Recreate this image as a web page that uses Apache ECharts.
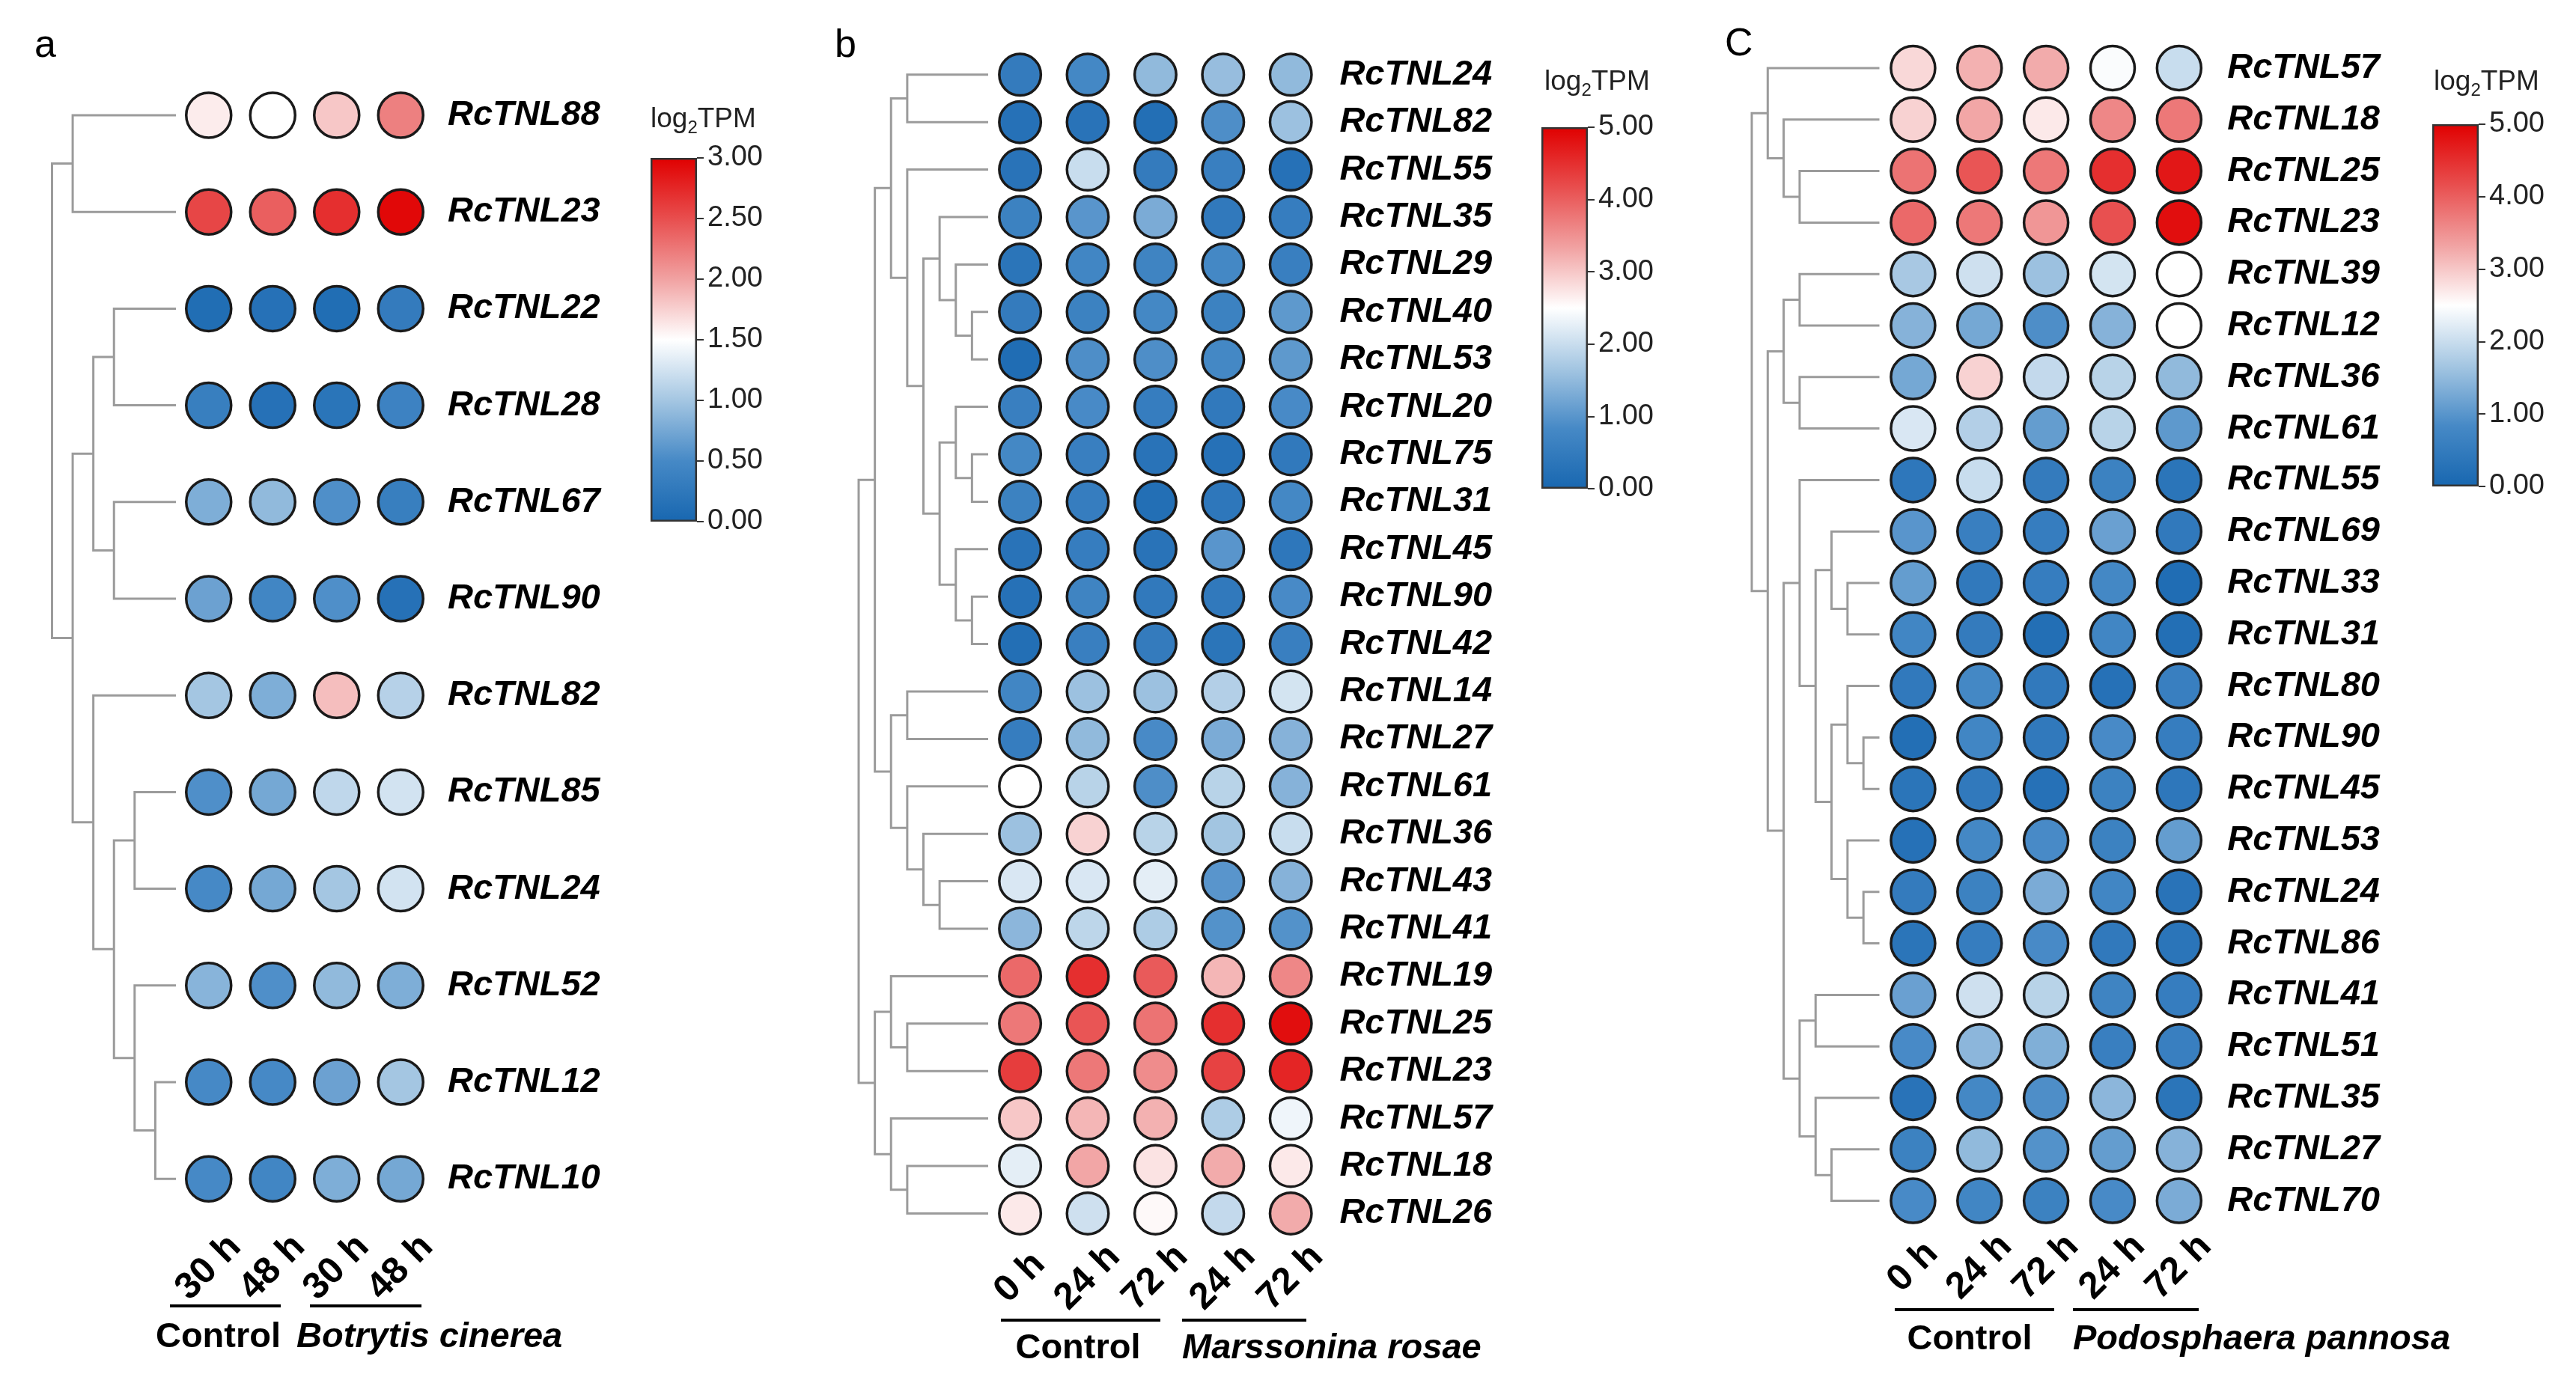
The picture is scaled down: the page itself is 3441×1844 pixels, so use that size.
<!DOCTYPE html>
<html><head><meta charset="utf-8">
<script src="https://cdn.jsdelivr.net/npm/echarts@6/dist/echarts.min.js"></script>
<style>html,body{margin:0;padding:0;background:#fff;} #c{width:3441px;height:1844px;}</style>
</head><body><div id="c"></div>
<script>
// ---------------- DATA ----------------
const timesA = ['30 h','48 h','30 h','48 h'];
const timesB = ['0 h','24 h','72 h','24 h','72 h'];
const timesC = ['0 h','24 h','72 h','24 h','72 h'];

const groupsA = ['Control','Botrytis cinerea'];
const groupsB = ['Control','Marssonina rosae'];
const groupsC = ['Control','Podosphaera pannosa'];

const ticksA = {min:0, max:3, step:0.5};
const ticksB = {min:0, max:5, step:1};
const ticksC = {min:0, max:5, step:1};

const genesA = ['RcTNL88','RcTNL23','RcTNL22','RcTNL28','RcTNL67','RcTNL90','RcTNL82','RcTNL85','RcTNL24','RcTNL52','RcTNL12','RcTNL10'];
const valuesA = [
  [1.6,1.5,1.8,2.2],
  [2.55,2.4,2.7,2.95],
  [0.1,0.15,0.1,0.3],
  [0.35,0.15,0.2,0.4],
  [0.8,0.9,0.55,0.35],
  [0.7,0.45,0.55,0.15],
  [1.0,0.8,1.85,1.1],
  [0.55,0.75,1.15,1.25],
  [0.5,0.75,1.0,1.25],
  [0.85,0.55,0.9,0.8],
  [0.5,0.5,0.7,1.0],
  [0.5,0.45,0.8,0.75]
];
const treeA = [6,
  [5,'RcTNL88','RcTNL23'],
  [5,
    [4,[3,'RcTNL22','RcTNL28'],[3,'RcTNL67','RcTNL90']],
    [4,'RcTNL82',[3,[2,'RcTNL85','RcTNL24'],[2,'RcTNL52',[1,'RcTNL12','RcTNL10']]]]
  ]
];

const genesB = ['RcTNL24','RcTNL82','RcTNL55','RcTNL35','RcTNL29','RcTNL40','RcTNL53','RcTNL20','RcTNL75','RcTNL31','RcTNL45','RcTNL90','RcTNL42','RcTNL14','RcTNL27','RcTNL61','RcTNL36','RcTNL43','RcTNL41','RcTNL19','RcTNL25','RcTNL23','RcTNL57','RcTNL18','RcTNL26'];
const valuesB = [
  [0.5,0.8,1.5,1.55,1.5],
  [0.25,0.3,0.2,0.9,1.6],
  [0.3,2.0,0.5,0.6,0.25],
  [0.65,1.0,1.3,0.45,0.55],
  [0.35,0.75,0.7,0.8,0.6],
  [0.5,0.65,0.8,0.65,1.05],
  [0.15,0.9,0.9,0.8,1.05],
  [0.6,0.85,0.55,0.45,0.85],
  [0.8,0.6,0.3,0.25,0.45],
  [0.65,0.55,0.2,0.4,0.8],
  [0.3,0.55,0.3,1.0,0.4],
  [0.25,0.7,0.45,0.45,0.85],
  [0.2,0.6,0.5,0.35,0.6],
  [0.75,1.6,1.6,1.8,2.1],
  [0.55,1.5,0.85,1.3,1.4],
  [2.5,1.85,0.9,1.85,1.4],
  [1.6,2.9,1.85,1.65,2.0],
  [2.15,2.15,2.25,1.0,1.4],
  [1.45,1.9,1.75,0.95,0.95],
  [3.9,4.5,4.05,3.15,3.6],
  [3.75,4.1,3.8,4.5,4.85],
  [4.35,3.75,3.55,4.3,4.6],
  [3.0,3.15,3.2,1.75,2.35],
  [2.25,3.3,2.75,3.25,2.7],
  [2.7,2.05,2.55,1.95,3.25]
];
const treeB = [8,
  [7,
    [6,
      [5,'RcTNL24','RcTNL82'],
      [5,'RcTNL55',
        [4,
          [3,'RcTNL35',[2,'RcTNL29',[1,'RcTNL40','RcTNL53']]],
          [3,[2,'RcTNL20',[1,'RcTNL75','RcTNL31']],[2,'RcTNL45',[1,'RcTNL90','RcTNL42']]]
        ]
      ]
    ],
    [6,
      [5,'RcTNL14','RcTNL27'],
      [5,'RcTNL61',[4,'RcTNL36',[3,'RcTNL43','RcTNL41']]]
    ]
  ],
  [7,
    [6,'RcTNL19',[5,'RcTNL25','RcTNL23']],
    [6,'RcTNL57',[5,'RcTNL18','RcTNL26']]
  ]
];

const genesC = ['RcTNL57','RcTNL18','RcTNL25','RcTNL23','RcTNL39','RcTNL12','RcTNL36','RcTNL61','RcTNL55','RcTNL69','RcTNL33','RcTNL31','RcTNL80','RcTNL90','RcTNL45','RcTNL53','RcTNL24','RcTNL86','RcTNL41','RcTNL51','RcTNL35','RcTNL27','RcTNL70'];
const valuesC = [
  [2.85,3.2,3.25,2.45,2.0],
  [2.9,3.3,2.7,3.6,3.75],
  [3.8,4.1,3.75,4.5,4.75],
  [3.9,3.75,3.45,4.15,4.85],
  [1.7,2.05,1.6,2.1,2.5],
  [1.4,1.25,0.9,1.4,2.5],
  [1.25,2.9,1.95,1.85,1.5],
  [2.15,1.8,1.1,1.85,1.05],
  [0.4,2.0,0.5,0.65,0.35],
  [1.0,0.6,0.55,1.15,0.45],
  [1.1,0.45,0.55,0.8,0.15],
  [0.75,0.5,0.2,0.75,0.2],
  [0.45,0.8,0.45,0.25,0.6],
  [0.2,0.75,0.45,0.85,0.55],
  [0.35,0.45,0.25,0.65,0.4],
  [0.25,0.8,0.85,0.65,1.1],
  [0.5,0.65,1.3,0.75,0.3],
  [0.35,0.55,0.85,0.45,0.35],
  [1.15,2.05,1.85,0.7,0.55],
  [0.85,1.45,1.35,0.6,0.6],
  [0.3,0.8,0.9,1.45,0.35],
  [0.65,1.5,0.95,1.1,1.4],
  [0.85,0.75,0.65,0.85,1.3]
];
const treeC = [8,
  [7,'RcTNL57',[6,'RcTNL18',[5,'RcTNL25','RcTNL23']]],
  [7,
    [6,[5,'RcTNL39','RcTNL12'],[5,'RcTNL36','RcTNL61']],
    [6,
      [5,'RcTNL55',
        [4,
          [3,'RcTNL69',[2,'RcTNL33','RcTNL31']],
          [3,[2,'RcTNL80',[1,'RcTNL90','RcTNL45']],[2,'RcTNL53',[1,'RcTNL24','RcTNL86']]]
        ]
      ],
      [5,[4,'RcTNL41','RcTNL51'],[4,'RcTNL35',[3,'RcTNL27','RcTNL70']]]
    ]
  ]
];

// ---------------- STYLE / LAYOUT ----------------
const palette = ['#1867b0','#4689c6','#a4c6e2','#ffffff','#f1a2a2','#e84e4e','#e00000'];
const layouts = {
  a:{letter:'a', letterX:60, letterY:80, dLeft:69.5, dRight:235, hLeft:236, colStep:85.5, top:89.4, rowStep:129.2, dot:63,
     cbLeft:869, cbTop:211, cbW:62, cbH:486, titleX:869, titleY:160, lineY:1745, textY:1787,
     lines:[[227,375],[414,563]], texts:[[291.5,'center'],[396,'left']]},
  b:{letter:'b', letterX:1129, letterY:80, dLeft:1147, dRight:1320, hLeft:1317.4, colStep:90.4, top:68.1, rowStep:63.4, dot:58.5,
     cbLeft:2059, cbTop:170, cbW:62, cbH:483, titleX:2063, titleY:110, lineY:1764, textY:1802,
     lines:[[1337,1550],[1579,1745]], texts:[[1440,'center'],[1579,'left']]},
  c:{letter:'C', letterX:2318, letterY:78, dLeft:2340, dRight:2510.5, hLeft:2511, colStep:88.85, top:56.6, rowStep:68.8, dot:62,
     cbLeft:3249, cbTop:166, cbW:62, cbH:484, titleX:3251, titleY:110, lineY:1750, textY:1790,
     lines:[[2531,2744],[2769,2937]], texts:[[2631,'center'],[2769,'left']]}
};

const panels = [
  {key:'a', genes:genesA, times:timesA, values:valuesA, tree:treeA, ticks:ticksA, groups:groupsA},
  {key:'b', genes:genesB, times:timesB, values:valuesB, tree:treeB, ticks:ticksB, groups:groupsB},
  {key:'c', genes:genesC, times:timesC, values:valuesC, tree:treeC, ticks:ticksC, groups:groupsC}
];

function flatten(tree, genes) {
  const segs = [];
  function walk(n) {
    if (typeof n === 'string') return {h:0, y:genes.indexOf(n)};
    const a = walk(n[1]), b = walk(n[2]);
    segs.push([a.h, a.y, n[0], b.h, b.y]);
    return {h:n[0], y:(a.y + b.y) / 2};
  }
  walk(tree);
  return segs;
}

const chart = echarts.init(document.getElementById('c'), null, {renderer:'canvas'});
const option = {
  backgroundColor:'#fff', animation:false,
  grid:[], xAxis:[], yAxis:[], series:[], visualMap:[], graphic:[]
};

panels.forEach((p) => {
  const L = layouts[p.key];
  const n = p.genes.length, m = p.times.length;
  const gi = option.grid.length;
  const H = n * L.rowStep;
  option.grid.push({left:L.dLeft, top:L.top, width:L.dRight - L.dLeft, height:H, outerBoundsMode:'none'});
  option.grid.push({left:L.hLeft, top:L.top, width:m * L.colStep, height:H, outerBoundsMode:'none'});
  option.grid.push({left:L.cbLeft, top:L.cbTop, width:L.cbW, height:L.cbH, outerBoundsMode:'none'});

  const maxLevel = p.tree[0];
  option.xAxis.push({gridIndex:gi, type:'value', min:0, max:maxLevel, inverse:true, show:false});
  option.yAxis.push({gridIndex:gi, type:'value', min:-0.5, max:n - 0.5, inverse:true, show:false});

  option.xAxis.push({gridIndex:gi + 1, type:'category', data:p.times.map((t, i) => String(i)), position:'bottom',
    axisLine:{show:false}, axisTick:{show:false}, splitLine:{show:false},
    axisLabel:{interval:0, rotate:45, align:'center', verticalAlign:'middle', margin:54,
      formatter:(v) => p.times[+v], fontFamily:'Liberation Sans', fontWeight:'bold', fontSize:50, color:'#000'}});
  option.yAxis.push({gridIndex:gi + 1, type:'category', data:p.genes, inverse:true, position:'right',
    axisLine:{show:false}, axisTick:{show:false}, splitLine:{show:false},
    axisLabel:{interval:0, margin:20, fontFamily:'Liberation Sans', fontWeight:'bold', fontStyle:'italic', fontSize:47, color:'#000'}});

  option.xAxis.push({gridIndex:gi + 2, type:'category', data:['v'], show:false});
  option.yAxis.push({gridIndex:gi + 2, type:'value', min:p.ticks.min, max:p.ticks.max, interval:p.ticks.step, position:'right',
    axisLine:{show:false}, splitLine:{show:false},
    axisTick:{show:true, length:9, lineStyle:{color:'#333', width:2}},
    axisLabel:{margin:14, formatter:(v) => v.toFixed(2), fontFamily:'Liberation Sans', fontSize:38, color:'#222'}});

  option.series.push({type:'custom', xAxisIndex:gi, yAxisIndex:gi, silent:true,
    data:flatten(p.tree, p.genes), encode:{x:[0,2,3], y:[1,4]},
    renderItem:(params, api) => {
      const p1 = api.coord([api.value(0), api.value(1)]);
      const p2 = api.coord([api.value(2), api.value(1)]);
      const p3 = api.coord([api.value(2), api.value(4)]);
      const p4 = api.coord([api.value(3), api.value(4)]);
      return {type:'polyline', shape:{points:[p1,p2,p3,p4]}, style:{stroke:'#9b9b9b', lineWidth:3, fill:null}};
    }});

  const dots = [];
  p.values.forEach((row, r) => row.forEach((v, c) => dots.push([c, r, v])));
  const si = option.series.length;
  option.series.push({type:'scatter', xAxisIndex:gi + 1, yAxisIndex:gi + 1, data:dots, symbol:'circle',
    symbolSize:L.dot - 3, itemStyle:{borderColor:'#1a1a1a', borderWidth:3.5, opacity:1}, silent:true});
  option.visualMap.push({type:'continuous', show:false, min:p.ticks.min, max:p.ticks.max, dimension:2, seriesIndex:si,
    inRange:{color:palette}});

  const stops = palette.map((c, i) => ({offset:i / (palette.length - 1), color:c}));
  option.series.push({type:'bar', xAxisIndex:gi + 2, yAxisIndex:gi + 2, data:[p.ticks.max], barWidth:'100%', silent:true,
    itemStyle:{color:new echarts.graphic.LinearGradient(0, 1, 0, 0, stops), borderColor:'#333', borderWidth:2.5}});

  option.graphic.push({type:'text', left:L.letterX - 14, top:L.letterY - 44,
    style:{text:L.letter, fontFamily:'Liberation Sans', fontSize:52, fill:'#000'}});
  option.graphic.push({type:'text', x:L.titleX, y:L.titleY,
    style:{text:'log{s|2}TPM', fontFamily:'Liberation Sans', fontSize:37, fill:'#222', verticalAlign:'middle',
      rich:{s:{fontSize:24, fontFamily:'Liberation Sans', fill:'#222', padding:[22,0,0,0]}}}});
  L.lines.forEach((ln) => option.graphic.push({type:'line', shape:{x1:ln[0], y1:L.lineY, x2:ln[1], y2:L.lineY},
    style:{stroke:'#000', lineWidth:4}}));
  p.groups.forEach((g, k) => option.graphic.push({type:'text', x:L.texts[k][0], y:L.textY,
    style:{text:g, align:L.texts[k][1], verticalAlign:'middle', fontFamily:'Liberation Sans', fontWeight:'bold',
      fontStyle:k === 0 ? 'normal' : 'italic', fontSize:47, fill:'#000'}}));
});

chart.setOption(option);
</script></body></html>
